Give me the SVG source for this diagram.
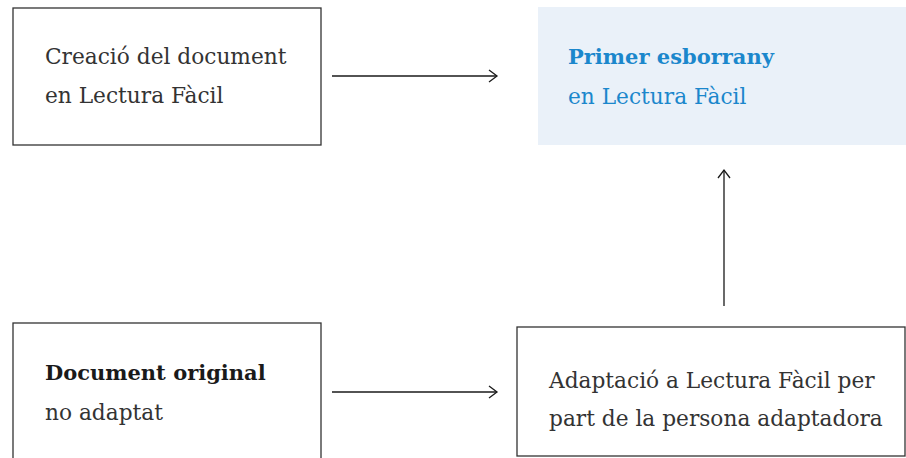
<svg xmlns="http://www.w3.org/2000/svg" width="906" height="458" viewBox="0 0 906 458">
<defs>
<style>
.box{fill:#ffffff;stroke:#333333;stroke-width:1.3}
.t{font-family:"DejaVu Serif","Liberation Serif",serif;font-size:21.7px;fill:#333333}
.b{font-weight:bold;fill:#1a1a1a;font-size:21px}
.blue{fill:#1b87cc}
.conn{stroke:#1a1a1a;stroke-width:1.3;fill:none}
</style>
<marker id="ah" markerWidth="12" markerHeight="14" refX="10" refY="7" orient="auto" markerUnits="userSpaceOnUse">
<path d="M2,1 L10,7 L2,13" fill="none" stroke="#1a1a1a" stroke-width="1.3"/>
</marker>
</defs>
<g id="creacio">
<rect class="box" x="13" y="8" width="308" height="137"/>
<text class="t" x="45" y="64">Creació del document</text>
<text class="t" x="45" y="103">en Lectura Fàcil</text>
</g>
<g id="esborrany">
<rect x="538" y="7" width="368" height="138" fill="#eaf1f9"/>
<text class="t b blue" x="568" y="64">Primer esborrany</text>
<text class="t blue" x="568" y="104">en Lectura Fàcil</text>
</g>
<g id="original">
<rect class="box" x="13" y="323" width="308" height="150"/>
<text class="t b" x="45" y="380">Document original</text>
<text class="t" x="45" y="420">no adaptat</text>
</g>
<g id="adaptacio">
<rect class="box" x="517" y="327" width="388" height="129"/>
<text class="t" x="549" y="388">Adaptació a Lectura Fàcil per</text>
<text class="t" x="549" y="426">part de la persona adaptadora</text>
</g>
<g id="connectors">
<line class="conn" x1="332" y1="76" x2="497" y2="76" marker-end="url(#ah)"/>
<line class="conn" x1="332" y1="392" x2="497" y2="392" marker-end="url(#ah)"/>
<line class="conn" x1="724" y1="306" x2="724" y2="170" marker-end="url(#ah)"/>
</g>
</svg>
